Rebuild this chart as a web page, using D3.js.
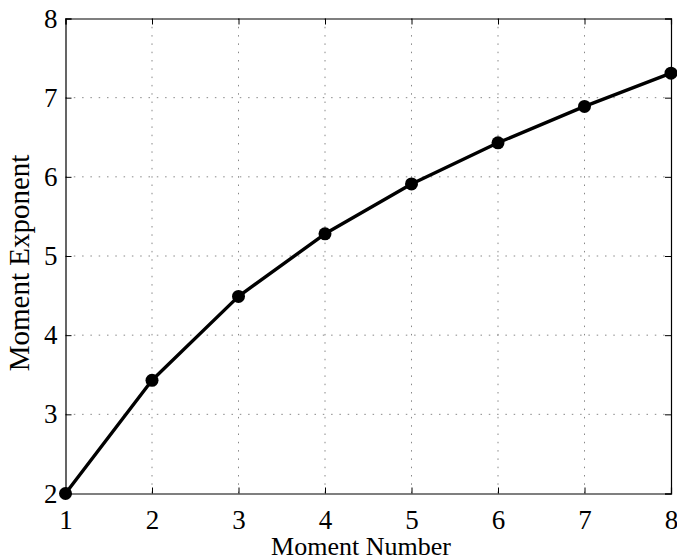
<!DOCTYPE html>
<html>
<head>
<meta charset="utf-8">
<script src="https://cdn.jsdelivr.net/npm/d3@7"></script>
<style>
  body { margin: 0; background: #fff; }
  text { font-family: "Liberation Serif", "Times New Roman", serif; fill: #000; }
</style>
</head>
<body>
<div id="chart"></div>
<script>
const WIDTH = 677;
const HEIGHT = 560;
const MARGIN = { TOP: 18.5, BOTTOM: 66.5, LEFT: 65.5, RIGHT: 6 };
const width = WIDTH - MARGIN.LEFT - MARGIN.RIGHT;
const height = HEIGHT - MARGIN.TOP - MARGIN.BOTTOM;

// data
var moment_number = [1, 2, 3, 4, 5, 6, 7, 8];
var moment_exponent = [2.0, 3.43, 4.49, 5.28, 5.91, 6.43, 6.89, 7.31];
var x_ticks = [1, 2, 3, 4, 5, 6, 7, 8];
var y_ticks = [2, 3, 4, 5, 6, 7, 8];

const svg = d3.select('#chart')
    .append('svg')
    .attr('width', WIDTH)
    .attr('height', HEIGHT);

const g = svg.append('g')
    .attr('transform', 'translate(' + MARGIN.LEFT + ',' + MARGIN.TOP + ')');

var x = d3.scaleLinear().domain([1, 8]).range([0, width]);
var y = d3.scaleLinear().domain([2, 8]).range([height, 0]);

// dotted grid
g.append('g')
  .selectAll('line')
  .data(x_ticks.slice(1, -1))
  .enter().append('line')
    .attr('x1', d => x(d)).attr('x2', d => x(d))
    .attr('y1', 0).attr('y2', height)
    .attr('stroke', '#888')
    .attr('stroke-width', 1)
    .attr('stroke-dasharray', '1.5,6.8');

g.append('g')
  .selectAll('line')
  .data(y_ticks.slice(1, -1))
  .enter().append('line')
    .attr('x1', 0).attr('x2', width)
    .attr('y1', d => y(d)).attr('y2', d => y(d))
    .attr('stroke', '#888')
    .attr('stroke-width', 1)
    .attr('stroke-dasharray', '1.5,6.8');

// axes, ticks inward on all four sides
var xBottom = g.append('g')
    .attr('transform', 'translate(0,' + height + ')')
    .call(d3.axisBottom(x).tickValues(x_ticks).tickSize(-6).tickPadding(16).tickFormat(d3.format('d')));
var xTop = g.append('g')
    .call(d3.axisTop(x).tickValues(x_ticks).tickSize(-6).tickFormat(''));
var yLeft = g.append('g')
    .call(d3.axisLeft(y).tickValues(y_ticks).tickSize(-6).tickPadding(8).tickFormat(d3.format('d')));
var yRight = g.append('g')
    .attr('transform', 'translate(' + width + ',0)')
    .call(d3.axisRight(y).tickValues(y_ticks).tickSize(-6).tickFormat(''));

[xBottom, xTop, yLeft, yRight].forEach(a => {
  a.select('.domain').attr('stroke', '#000').attr('stroke-width', 1.2);
  a.selectAll('.tick line').attr('stroke', '#000');
  a.selectAll('.tick text')
    .style('font-family', '"Liberation Serif", serif')
    .style('font-size', '27px');
});

// line and markers
var line = d3.line()
    .x((d, i) => x(moment_number[i]))
    .y(d => y(d));

g.append('path')
  .datum(moment_exponent)
  .attr('d', line)
  .attr('fill', 'none')
  .attr('stroke', '#000')
  .attr('stroke-width', 3.4)
  .attr('stroke-linejoin', 'round');

g.selectAll('.dot')
  .data(moment_exponent)
  .enter().append('circle')
    .attr('class', 'dot')
    .attr('cx', (d, i) => x(moment_number[i]))
    .attr('cy', d => y(d))
    .attr('r', 6.5)
    .attr('fill', '#000');

// axis titles
svg.append('text')
  .attr('x', 361)
  .attr('y', 555)
  .attr('text-anchor', 'middle')
  .style('font-size', '26px')
  .text('Moment Number');

svg.append('text')
  .attr('transform', 'translate(29,263) rotate(-90)')
  .attr('text-anchor', 'middle')
  .style('font-size', '29px')
  .text('Moment Exponent');
</script>
</body>
</html>
